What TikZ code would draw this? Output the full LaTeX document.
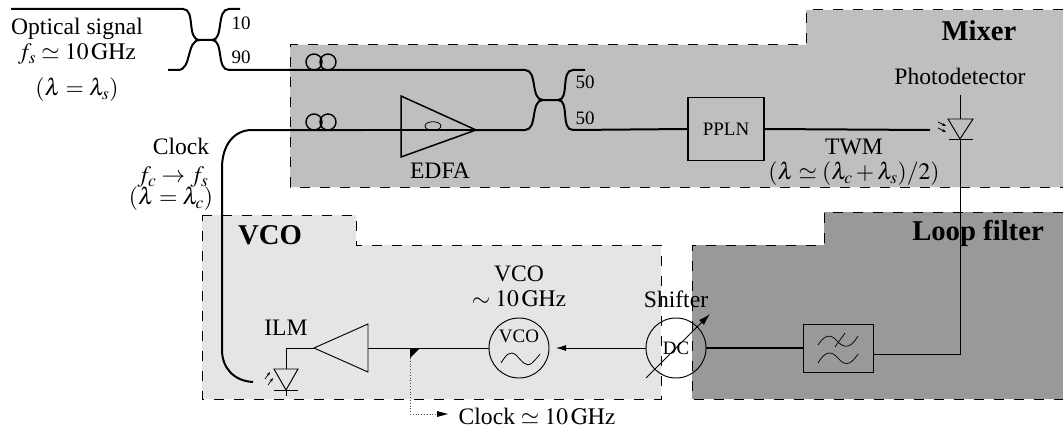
\documentclass[tikz,border=0pt]{standalone}
\usepackage{amsmath}
\usepackage{mathptmx}
\usepackage[no-math]{fontspec}
\setmainfont{Liberation Serif}
\usepackage{tikz}
\usetikzlibrary{arrows.meta,positioning,calc}
\newcommand{\labfont}{\fontsize{23.6}{26}\selectfont}
\newcommand{\tinyfont}{\fontsize{19}{21}\selectfont}
\newcommand{\panelfont}{\fontsize{28.7}{31}\selectfont\bfseries}
\tikzset{
  panel/.style={draw=black,line width=1pt,dash pattern=on 10pt off 10pt},
  fibre/.style={line width=2pt},
  wire/.style={line width=0.95pt},
  part/.style={draw,line width=1.5pt},
  photon/.style={-{Stealth[length=4pt,width=3pt]},line width=0.7pt},
  lab/.style={inner sep=0pt,font=\labfont},
  tinylab/.style={inner sep=0pt,font=\tinyfont}
}
\begin{document}
\begin{tikzpicture}[x=1pt,y=-1pt,>=stealth]
  \useasboundingbox (0,0) rectangle (1063,428);

  % the three panels
  \fill[black!25] (290,45) -- (806,45) -- (806,10) -- (1063,10) -- (1063,187) -- (290,187) -- cycle;
  \draw[panel] (1063,10) -- (806,10) -- (806,45) -- (290,45) -- (290,187) -- (1063,187);
  \fill[black!10] (202,215) -- (356,215) -- (356,245) -- (661,245) -- (661,399) -- (202,399) -- cycle;
  \draw[panel] (202,215) -- (356,215) -- (356,245) -- (661,245) -- (661,399) -- (202,399) -- cycle;
  \fill[black!40] (692,245) -- (824,245) -- (824,212) -- (1063,212) -- (1063,399) -- (692,399) -- cycle;
  \draw[panel] (1063,212) -- (824,212) -- (824,245) -- (692,245) -- (692,399) -- (1063,399);

  % blocks
  \node[part,minimum width=76pt,minimum height=63pt,inner sep=0pt,font=\tinyfont] (ppln) at (726,129) {PPLN};
  \node[draw,wire,minimum width=70pt,minimum height=48pt] (filter) at (838,348) {};
  \node[circle,draw,wire,minimum size=60pt,inner sep=0pt] (vco) at (519,348) {};
  \node[circle,draw,wire,minimum size=60pt,inner sep=0pt] (dc) at (676,348) {};
  \node[tinylab] (vcotext) at (519,336) {VCO};
  \node[tinylab] (dctext) at (676,348) {DC};

  \coordinate (edfain) at (401,130);
  \coordinate (edfaout) at (476,130);
  \coordinate (ampin) at (368,348);
  \coordinate (ampout) at (314,348);
  \coordinate (pdtop) at (960,95);
  \coordinate (pda) at (960,119);
  \coordinate (pdb) at (960,139);
  \coordinate (ilma) at (286,369);
  \coordinate (ilmb) at (286,390);
  \coordinate (tap) at (410,348);
  \coordinate (vcotip) at (556,348);
  \coordinate (twmend) at (930,130);

  % first coupler 10/90
  \draw[fibre] (11,9) -- (183,9) .. controls (196,9) and (186,40) .. (200,40) -- (212,40)
     .. controls (224,40) and (216,9) .. (229,9) -- (240,9);
  \draw[fibre] (168,70) -- (178,70) .. controls (192,70) and (186,40) .. (200,40);
  \draw[fibre] (212,40) .. controls (224,40) and (216,70) .. (229,70) -- (525,70)
     .. controls (538,70) and (530,100) .. (543,100) -- (558,100)
     .. controls (570,100) and (560,70) .. (573,70) -- (585,70);

  % clock fibre and second coupler
  \draw[fibre] (253,382) .. controls (234,381) and (222,368) .. (222,350) -- (222,168)
     .. controls (222,145) and (234,130) .. (252,130) -- (363,130);
  \draw[line width=1.3pt] (363,130) -- (edfain) -- (edfaout);
  \draw[fibre] (edfaout) -- (525,130) .. controls (538,130) and (530,100) .. (543,100);
  \draw[fibre] (558,100) .. controls (570,100) and (560,130) .. (573,130) -- (ppln.west);

  % fibre loops
  \draw[line width=1.4pt] (314,62) circle (8) (328,62) circle (8);
  \draw[line width=1.4pt] (314,122) circle (8) (328,122) circle (8);

  % EDFA
  \draw[part] (401,96) -- (476,130) -- (401,157) -- cycle;
  \draw[line width=0.8pt] (433,126) ellipse (8 and 4.3);

  % photodetector
  \draw[fibre] (ppln.east) -- (twmend);
  \draw[wire] (948,119) -- (973,119) -- (pdb) -- cycle;
  \draw[wire] (949,139.5) -- (973,139.5);
  \draw[wire] (pdtop) -- (pda);
  \draw[wire] (pdb) -- (960,354) -- (filter.east |- 0,354);
  \draw[photon] (938,122) -- (946,126);
  \draw[photon] (938,128) -- (946,132);

  % filter symbol
  \draw[line width=0.7pt] (818,345) .. controls (824,336) and (830,332) .. (838,342) .. controls (846,350) and (852,346) .. (858,336);
  \draw[line width=0.7pt] (818,363) .. controls (824,353) and (830,349) .. (838,358) .. controls (846,368) and (852,363) .. (858,354);
  \draw[line width=0.7pt] (845,333) -- (835,347);

  % lower chain
  \draw[fibre,line width=2.2pt] (dc.east) -- (filter.west);
  \draw[wire,-{Latex[length=10pt,width=6pt]}] (dc.west) -- (vcotip);
  \draw[wire] (ampin) -- (vco.west);
  \draw[wire] (314,348) -- (368,324) -- (368,372) -- cycle;
  \draw[wire] (ampout) -- (286,348) -- (ilma);
  \draw[wire] (274,369) -- (298,369) -- (ilmb) -- cycle;
  \draw[wire] (274,390) -- (298,390);
  \draw[wire] (ilmb) -- (286,396);
  \draw[photon] (265,379) -- (270,372);
  \draw[photon] (268,385) -- (273,378);
  \draw[line width=0.8pt] (501,363) .. controls (506,355) and (510,350) .. (516,355) .. controls (522,361) and (526,368) .. (532,363) .. controls (535,360) and (538,357) .. (540,354);
  \draw[line width=1pt,-{Latex[length=12pt,width=7pt]}] (646,378) -- (710,314);

  % tap
  \fill (tap) -- (420,348) -- (410,358) -- cycle;
  \draw[line width=0.8pt,dotted,gray!60!black] (410,358) -- (410,414) -- (438,414);
  \fill (448,414) -- (437,411) -- (437,417) -- cycle;

  % labels
  \node[lab] (optical) at (77,29) {Optical signal};
  \node[lab] (fsig) at (77,54) {$f_s \simeq 10\,\mathrm{GHz}$};
  \node[lab] (lamsig) at (77,90) {$(\lambda = \lambda_s)$};
  \node[tinylab] (ten) at (241,23) {10};
  \node[tinylab] (ninety) at (241,57) {90};
  \node[tinylab] (fifty) at (585,82) {50};
  \node[tinylab] (fiftyb) at (585,118) {50};
  \node[lab] (clock) at (181,146) {Clock};
  \node[lab] (fclock) at (173,177) {$f_c \to f_s$};
  \node[lab] (lamclock) at (171,199) {$(\lambda = \lambda_c)$};
  \node[lab] (edfa) at (440,171) {EDFA};
  \node[lab] (twm) at (854,147) {TWM};
  \node[lab] (lamtwm) at (854,174) {$(\lambda \simeq (\lambda_c + \lambda_s)/2)$};
  \node[lab] (photo) at (960,76) {Photodetector};
  \node[inner sep=0pt,font=\panelfont] (mixer) at (979,31) {Mixer};
  \node[inner sep=0pt,font=\panelfont] (vconame) at (270,235) {VCO};
  \node[inner sep=0pt,font=\panelfont] (loop) at (978,233) {Loop filter};
  \node[lab] (ilm) at (286,328) {ILM};
  \node[lab] (vcofreq) at (519,274) {VCO};
  \node[lab] (vcoghz) at (519,299) {$\sim 10\,\mathrm{GHz}$};
  \node[lab] (shifter) at (676,299) {Shifter};
  \node[lab] (clockout) at (537,416) {Clock $\simeq 10\,\mathrm{GHz}$};
\end{tikzpicture}
\end{document}
